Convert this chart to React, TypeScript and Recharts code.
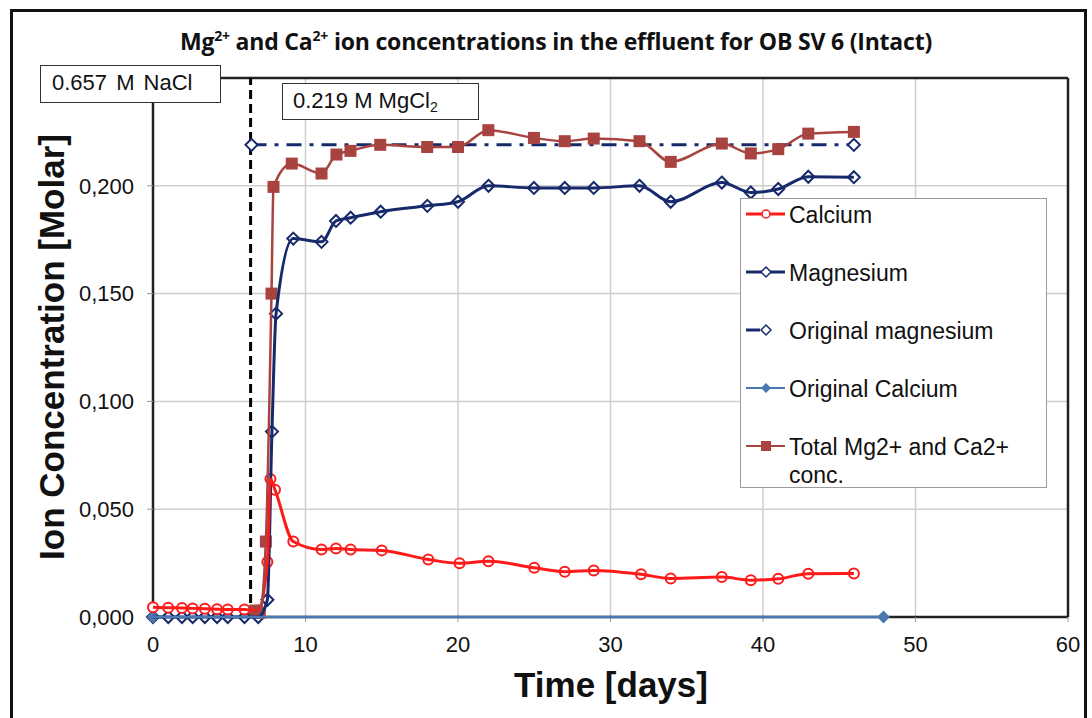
import React from "react";
import {
  CartesianGrid,
  Legend,
  Line,
  LineChart,
  ReferenceLine,
  XAxis,
  YAxis,
} from "recharts";

// time in days, concentration in molar
const calciumDays = [0, 1, 1.9, 2.6, 3.4, 4.2, 4.9, 6.0, 6.9, 7.5, 7.7, 8.0, 9.2, 11.05, 12.0, 12.96, 15.0, 18.05, 20.1, 22.0, 25.0, 27.0, 28.9, 32.0, 33.95, 37.3, 39.2, 41.0, 42.97, 45.96];
const calciumConc = [0.0045, 0.0043, 0.0042, 0.004, 0.0038, 0.0036, 0.0035, 0.0035, 0.003, 0.0255, 0.064, 0.059, 0.035, 0.0313, 0.0318, 0.0313, 0.0309, 0.0267, 0.0249, 0.0259, 0.0228, 0.021, 0.0216, 0.0198, 0.0179, 0.0185, 0.0171, 0.0177, 0.0201, 0.0202];

const magnesiumDays = [0, 1, 1.9, 2.6, 3.4, 4.2, 4.9, 6.0, 6.9, 7.5, 7.8, 8.07, 9.2, 11.05, 12.0, 12.96, 14.93, 17.99, 20.0, 22.0, 24.98, 27.0, 28.9, 31.9, 33.95, 37.3, 39.2, 41.0, 42.97, 45.96];
const magnesiumConc = [0, 0, 0, 0, 0, 0, 0, 0, 0, 0.008, 0.086, 0.1407, 0.1755, 0.174, 0.1837, 0.1852, 0.188, 0.1907, 0.1926, 0.2, 0.199, 0.199, 0.199, 0.2, 0.1926, 0.2015, 0.1969, 0.1985, 0.2042, 0.204];

const totalDays = [6.7, 7.0, 7.4, 7.77, 7.9, 9.1, 11.05, 12.03, 12.95, 14.9, 17.98, 20.0, 21.99, 24.98, 27.0, 28.9, 31.9, 33.95, 37.3, 39.2, 41.0, 42.97, 45.96];
const totalConc = [0.003, 0.002, 0.035, 0.15, 0.1995, 0.2103, 0.2057, 0.2145, 0.2162, 0.219, 0.218, 0.218, 0.2258, 0.2222, 0.2207, 0.2219, 0.2207, 0.2111, 0.2196, 0.215, 0.217, 0.2242, 0.225];

const originalMgDays = [6.46, 45.96];
const originalMgConc = [0.219, 0.219];

const originalCaDays = [0, 47.9];
const originalCaConc = [0, 0];

const switchDay = 6.4;
const xTicks = [0, 10, 20, 30, 40, 50, 60];
const yTicks = [0, 0.05, 0.1, 0.15, 0.2];

const toRows = (days: number[], conc: number[]) => days.map((t, i) => ({ t, v: conc[i] }));

const calcium = toRows(calciumDays, calciumConc);
const magnesium = toRows(magnesiumDays, magnesiumConc);
const total = toRows(totalDays, totalConc);
const originalMg = toRows(originalMgDays, originalMgConc);
const originalCa = toRows(originalCaDays, originalCaConc);

const RED = "#ff1a1a";
const NAVY = "#16296b";
const STEEL = "#4a78b0";
const BROWN = "#a8433f";
const FONT = "'Liberation Sans', Arial, sans-serif";

const diamond = (fill: string, stroke: string, s = 6) => (p: any) => {
  if (p.cx == null || p.cy == null) return <g key={`n-${p.index}`} />;
  const { cx, cy } = p;
  return (
    <path
      key={`d-${p.index}`}
      d={`M${cx},${cy - s}L${cx + s},${cy}L${cx},${cy + s}L${cx - s},${cy}Z`}
      fill={fill}
      stroke={stroke}
      strokeWidth={2}
    />
  );
};

const square = (p: any) => {
  if (p.cx == null || p.cy == null) return <g key={`n-${p.index}`} />;
  return <rect key={`s-${p.index}`} x={p.cx - 6} y={p.cy - 6} width={12} height={12} fill={BROWN} />;
};

const legendItems = [
  { label: "Calcium", kind: "circle", color: RED },
  { label: "Magnesium", kind: "diamond", color: NAVY },
  { label: "Original magnesium", kind: "hollow", color: NAVY },
  { label: "Original Calcium", kind: "filled", color: STEEL },
  { label: "Total Mg2+ and Ca2+ conc.", kind: "square", color: BROWN },
];

function LegendIcon({ kind, color }: { kind: string; color: string }) {
  return (
    <svg width={40} height={14} style={{ flex: "none", marginTop: 6 }}>
      {kind !== "hollow" && <line x1={0} y1={7} x2={39} y2={7} stroke={color} strokeWidth={kind === "filled" || kind === "square" ? 2 : 3} />}
      {kind === "hollow" && <line x1={0} y1={7} x2={14} y2={7} stroke={color} strokeWidth={3} />}
      {kind === "circle" && <circle cx={20} cy={7} r={4} fill="#fff" stroke={color} strokeWidth={1.5} />}
      {kind === "diamond" && <path d="M20,2L25,7L20,12L15,7Z" fill="#fff" stroke={color} strokeWidth={1.5} />}
      {kind === "hollow" && <path d="M20,2L25,7L20,12L15,7Z" fill="#fff" stroke={color} strokeWidth={1.5} />}
      {kind === "filled" && <path d="M20,2L25,7L20,12L15,7Z" fill={color} />}
      {kind === "square" && <rect x={15} y={2} width={10} height={10} fill={color} />}
    </svg>
  );
}

function LegendBox() {
  return (
    <div
      style={{
        width: 307,
        height: 290,
        boxSizing: "border-box",
        border: "1px solid #9a9a9a",
        background: "#fff",
        padding: "2px 4px 0 5px",
        fontFamily: FONT,
        fontSize: 23,
        color: "#111",
      }}
    >
      {legendItems.map((it) => (
        <div key={it.label} style={{ display: "flex", alignItems: "flex-start", height: 58, lineHeight: "28px", gap: 3 }}>
          <LegendIcon kind={it.kind} color={it.color} />
          <span>{it.label}</span>
        </div>
      ))}
    </div>
  );
}

const fmt = (v: number) => v.toFixed(3).replace(".", ",");

export default function App() {
  return (
    <div style={{ position: "absolute", left: 0, top: 0, width: 1092, height: 718, background: "#fff", overflow: "hidden" }}>
      <div style={{ position: "absolute", left: 10, top: 9, width: 1071, height: 730, border: "3px solid #111" }} />

      <div
        style={{
          position: "absolute",
          left: 0,
          width: 1112,
          top: 25,
          textAlign: "center",
          fontFamily: "'Open Sans', Lato, sans-serif",
          fontWeight: 700,
          fontSize: 23,
          color: "#111",
          letterSpacing: -0.2,
        }}
      >
        Mg<sup style={{ fontSize: 14 }}>2+</sup> and Ca<sup style={{ fontSize: 14 }}>2+</sup> ion concentrations in the effluent for OB SV 6 (Intact)
      </div>

      <div style={{ position: "absolute", left: 0, top: 0 }}>
        <LineChart width={1092} height={718} margin={{ top: 78, right: 24, left: 83, bottom: 71 }}>
          <CartesianGrid stroke="#cfcfcf" strokeWidth={1.5} />
          <XAxis
            dataKey="t"
            type="number"
            domain={[0, 60]}
            ticks={xTicks}
            height={30}
            tick={{ fill: "#111", fontSize: 22, fontFamily: FONT }}
            tickSize={5}
            tickMargin={14}
            tickLine={{ stroke: "#999" }}
            axisLine={{ stroke: "#222", strokeWidth: 2.5 }}
          />
          <YAxis
            dataKey="v"
            type="number"
            domain={[0, 0.25]}
            ticks={yTicks}
            width={70}
            tickFormatter={fmt}
            tick={{ fill: "#111", fontSize: 22, fontFamily: FONT }}
            tickSize={6}
            tickMargin={13}
            tickLine={{ stroke: "#999" }}
            axisLine={{ stroke: "#222", strokeWidth: 2.5 }}
          />
          <ReferenceLine y={0.25} stroke="#222" strokeWidth={2.5} />
          <ReferenceLine x={60} stroke="#222" strokeWidth={2.5} />
          <ReferenceLine x={switchDay} stroke="#000" strokeWidth={3} strokeDasharray="9 5" />
          <Line
            data={originalMg}
            dataKey="v"
            name="Original magnesium"
            stroke={NAVY}
            strokeWidth={3}
            strokeDasharray="15 8 4 8"
            dot={diamond("#fff", NAVY)}
            isAnimationActive={false}
          />
          <Line
            data={magnesium}
            dataKey="v"
            name="Magnesium"
            type="monotone"
            stroke={NAVY}
            strokeWidth={3}
            dot={diamond("#fff", NAVY)}
            isAnimationActive={false}
            zIndex={610}
          />
          <Line
            data={originalCa}
            dataKey="v"
            name="Original Calcium"
            stroke={STEEL}
            strokeWidth={2.5}
            dot={diamond(STEEL, STEEL, 5)}
            isAnimationActive={false}
            zIndex={620}
          />
          <Line
            data={calcium}
            dataKey="v"
            name="Calcium"
            type="monotone"
            stroke={RED}
            strokeWidth={3}
            dot={{ r: 5, fill: "#fff", stroke: RED, strokeWidth: 2 }}
            isAnimationActive={false}
            zIndex={630}
          />
          <Line
            data={total}
            dataKey="v"
            name="Total Mg2+ and Ca2+ conc."
            type="monotone"
            stroke={BROWN}
            strokeWidth={2.5}
            dot={square}
            isAnimationActive={false}
            zIndex={640}
          />
          <Legend
            layout="vertical"
            align="center"
            verticalAlign="middle"
            wrapperStyle={{ left: 740, top: 198, width: 307, height: 290 }}
            content={() => <LegendBox />}
          />
        </LineChart>
      </div>

      <div
        style={{
          position: "absolute",
          left: 40,
          top: 65,
          width: 181,
          height: 38,
          boxSizing: "border-box",
          border: "1.5px solid #333",
          background: "#fff",
          fontFamily: FONT,
          fontSize: 22,
          lineHeight: "34px",
          paddingLeft: 11,
          color: "#111",
          wordSpacing: 3,
        }}
      >
        0.657 M NaCl
      </div>
      <div
        style={{
          position: "absolute",
          left: 282,
          top: 83,
          width: 197,
          height: 37,
          boxSizing: "border-box",
          border: "1.5px solid #333",
          background: "#fff",
          fontFamily: FONT,
          fontSize: 22,
          lineHeight: "33px",
          paddingLeft: 10,
          color: "#111",
        }}
      >
        0.219 M MgCl<sub style={{ fontSize: 14, verticalAlign: "-4px" }}>2</sub>
      </div>

      <div
        style={{
          position: "absolute",
          left: 52,
          top: 347,
          transform: "translate(-50%, -50%) rotate(-90deg)",
          whiteSpace: "nowrap",
          fontFamily: FONT,
          fontWeight: 700,
          fontSize: 35,
          color: "#111",
        }}
      >
        Ion Concentration [Molar]
      </div>
      <div
        style={{
          position: "absolute",
          left: 611,
          top: 685,
          transform: "translate(-50%, -50%)",
          whiteSpace: "nowrap",
          fontFamily: FONT,
          fontWeight: 700,
          fontSize: 35,
          color: "#111",
        }}
      >
        Time [days]
      </div>
    </div>
  );
}
